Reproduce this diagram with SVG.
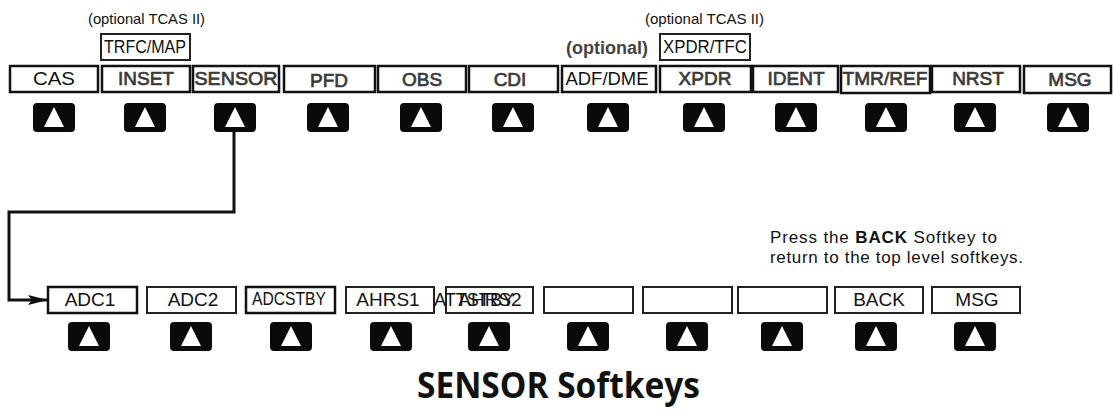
<svg xmlns="http://www.w3.org/2000/svg" width="1114" height="415" viewBox="0 0 1114 415">
<style>
.bx{fill:#fff;stroke:#111;stroke-width:2.5}
.bx2{fill:#fff;stroke:#222;stroke-width:2}
.lb{font-family:"Liberation Sans",Arial,sans-serif;font-size:19px;text-anchor:middle;fill:#111}
.lg{font-family:"Liberation Sans",Arial,sans-serif;font-size:19px;text-anchor:middle;fill:#3a3a3a;stroke:#3a3a3a;stroke-width:0.7}
.sm{font-family:"Liberation Sans",Arial,sans-serif;font-size:14.5px;fill:#111}
.note{font-family:"Liberation Sans",Arial,sans-serif;font-size:17px;fill:#111}
.btn{fill:#0a0a0a}
.tri{fill:#fff}
.conn{fill:none;stroke:#111;stroke-width:3}
</style>
<defs>
<marker id="ah" markerWidth="20" markerHeight="10" refX="19" refY="5" orient="auto" markerUnits="userSpaceOnUse">
<path d="M0,0 L20,5 L0,10 L4,5 Z" fill="#111"/>
</marker>
<g id="key">
<rect x="-21" y="0" width="42" height="29" rx="4" class="btn"/>
<path d="M0,4 L10,24 L-10,24 Z" class="tri"/>
</g>
</defs>
<rect width="1114" height="415" fill="#fff"/>

<g id="connectors">
<path class="conn" d="M234,132 V212 H9 V300 H47" marker-end="url(#ah)"/>
</g>

<text class="sm" x="88" y="24" textLength="117" lengthAdjust="spacingAndGlyphs">(optional TCAS II)</text>
<text class="sm" x="645" y="24" textLength="119" lengthAdjust="spacingAndGlyphs">(optional TCAS II)</text>
<text x="566" y="54" font-family="Liberation Sans,Arial,sans-serif" font-size="18" font-weight="bold" fill="#444" textLength="82" lengthAdjust="spacingAndGlyphs">(optional)</text>

<g id="trfcmap"><rect class="bx2" x="101" y="34" width="89" height="26"/><text class="lb" x="145" y="53" font-size="15.5" textLength="82" lengthAdjust="spacingAndGlyphs">TRFC/MAP</text></g>
<g id="xpdrtfc"><rect class="bx2" x="660" y="34" width="90" height="26"/><text class="lb" x="705" y="53" font-size="15.5" textLength="84" lengthAdjust="spacingAndGlyphs">XPDR/TFC</text></g>

<g id="top-cas"><rect class="bx" x="10" y="66" width="88" height="26"/><text class="lb" x="54" y="85" textLength="42" lengthAdjust="spacingAndGlyphs">CAS</text><use href="#key" x="54" y="103"/></g>
<g id="top-inset"><rect class="bx" x="102" y="66" width="88" height="26"/><text class="lg" x="146" y="85">INSET</text><use href="#key" x="145" y="103"/></g>
<g id="top-sensor"><rect class="bx" x="193" y="66" width="86" height="26"/><text class="lg" x="236" y="85" stroke-width="0.4" textLength="83" lengthAdjust="spacingAndGlyphs">SENSOR</text><use href="#key" x="235" y="103"/></g>
<g id="top-pfd"><rect class="bx" x="284" y="66" width="91" height="26"/><text class="lg" x="329" y="87" font-size="15.5">PFD</text><use href="#key" x="328" y="103"/></g>
<g id="top-obs"><rect class="bx" x="378" y="66" width="88" height="26"/><text class="lg" x="422" y="86" font-size="17">OBS</text><use href="#key" x="421" y="103"/></g>
<g id="top-cdi"><rect class="bx" x="469" y="66" width="89" height="26"/><text class="lg" x="510" y="86" font-size="16.5">CDI</text><use href="#key" x="513" y="103"/></g>
<g id="top-adfdme"><rect class="bx" x="562" y="66" width="94" height="26"/><text class="lb" x="607" y="85" textLength="83" lengthAdjust="spacingAndGlyphs">ADF/DME</text><use href="#key" x="608" y="103"/></g>
<g id="top-xpdr"><rect class="bx" x="660" y="66" width="91" height="26"/><text class="lg" x="705" y="85" font-size="18">XPDR</text><use href="#key" x="704" y="103"/></g>
<g id="top-ident"><rect class="bx" x="753" y="66" width="85" height="26"/><text class="lg" x="796" y="85" font-size="18">IDENT</text><use href="#key" x="796" y="103"/></g>
<g id="top-tmrref"><rect class="bx" x="841" y="66" width="89" height="27"/><text class="lg" x="885" y="85" stroke-width="0.4" textLength="85" lengthAdjust="spacingAndGlyphs">TMR/REF</text><use href="#key" x="886" y="103"/></g>
<g id="top-nrst"><rect class="bx" x="932" y="66" width="88" height="26"/><text class="lg" x="978" y="85" font-size="18">NRST</text><use href="#key" x="975" y="103"/></g>
<g id="top-msg"><rect class="bx" x="1024" y="66" width="87" height="27"/><text class="lg" x="1070" y="86">MSG</text><use href="#key" x="1068" y="103"/></g>

<text class="note" x="770" y="243" textLength="227" lengthAdjust="spacing">Press the <tspan font-weight="bold">BACK</tspan> Softkey to</text>
<text class="note" x="770" y="263" textLength="253" lengthAdjust="spacing">return to the top level softkeys.</text>

<g id="sub-adc1"><rect class="bx" x="48" y="287" width="89" height="26"/><text class="lb" x="90" y="306">ADC1</text><use href="#key" x="89" y="322"/></g>
<g id="sub-adc2"><rect class="bx2" x="147" y="287" width="89" height="26"/><text class="lb" x="193" y="306">ADC2</text><use href="#key" x="191" y="322"/></g>
<g id="sub-adcstby"><rect class="bx" x="246" y="287" width="89" height="26"/><text class="lb" x="289" y="305" font-size="17" textLength="74" lengthAdjust="spacingAndGlyphs">ADCSTBY</text><use href="#key" x="291" y="322"/></g>
<g id="sub-ahrs1"><rect class="bx2" x="346" y="287" width="88" height="26"/><text class="lb" x="388" y="306">AHRS1</text><use href="#key" x="391" y="322"/></g>
<g id="sub-ahrs2"><rect class="bx2" x="446" y="287" width="87" height="26"/><text class="lb" x="490" y="306">AHRS2</text><text class="lb" x="434" y="306" style="text-anchor:start" textLength="80" lengthAdjust="spacingAndGlyphs">ATTSTBY</text><use href="#key" x="489" y="322"/></g>
<g id="sub-blank1"><rect class="bx2" x="544" y="287" width="89" height="26"/><use href="#key" x="588" y="322"/></g>
<g id="sub-blank2"><rect class="bx2" x="643" y="287" width="89" height="26"/><use href="#key" x="687" y="322"/></g>
<g id="sub-blank3"><rect class="bx2" x="738" y="287" width="89" height="26"/><use href="#key" x="782" y="322"/></g>
<g id="sub-back"><rect class="bx2" x="835" y="287" width="88" height="26"/><text class="lb" x="879" y="306">BACK</text><use href="#key" x="876" y="322"/></g>
<g id="sub-msg"><rect class="bx2" x="932" y="287" width="88" height="26"/><text class="lb" x="977" y="306">MSG</text><use href="#key" x="975" y="322"/></g>

<text x="417" y="398" font-family="Open Sans,Noto Sans,sans-serif" font-size="36" font-weight="bold" fill="#111" textLength="283" lengthAdjust="spacingAndGlyphs">SENSOR Softkeys</text>
</svg>
